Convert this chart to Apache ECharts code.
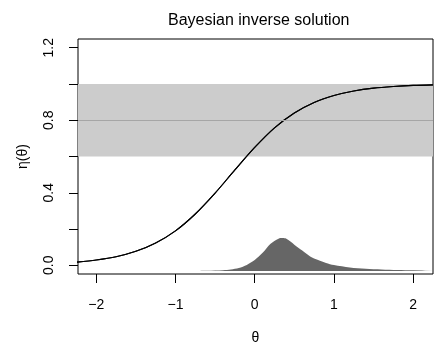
<!DOCTYPE html>
<html>
<head>
<meta charset="utf-8">
<script src="https://cdn.jsdelivr.net/npm/echarts@6/dist/echarts.min.js"></script>
<style>html,body{margin:0;padding:0;background:#fff}#c{width:443px;height:354px}</style>
</head>
<body>
<div id="c"></div>
<script>
// Response curve eta(theta)
const curveTheta = [-2.25,-2,-1.75,-1.5,-1.25,-1,-0.75,-0.5,-0.25,0,0.25,0.5,0.75,1,1.25,1.5,1.75,2,2.25];
const curveEta   = [0.017,0.029,0.047,0.077,0.123,0.190,0.283,0.398,0.526,0.650,0.758,0.840,0.898,0.936,0.961,0.977,0.986,0.992,0.995];
// Posterior density of theta (height above its baseline)
const densityTheta  = [-0.72,-0.6,-0.4,-0.3,-0.2,-0.1,0,0.1,0.2,0.3,0.35,0.4,0.5,0.6,0.7,0.8,0.9,1.0,1.2,1.4,1.6,1.8,2.0,2.25];
const densityHeight = [0,0.001,0.004,0.008,0.016,0.033,0.060,0.100,0.150,0.178,0.181,0.177,0.145,0.112,0.080,0.060,0.044,0.032,0.019,0.012,0.008,0.005,0.003,0.002];
const densityBase = -0.031;
// Observation band and target
const bandLow = 0.6, bandHigh = 1.0, target = 0.8;
// Ticks
const xTicks = [-2,-1,0,1,2];
const yTicks = [0,0.2,0.4,0.6,0.8,1.0,1.2];
const yLabels = [0,0.4,0.8,1.2];

const FONT = 'Liberation Sans';
const chart = echarts.init(document.getElementById('c'), null, {renderer:'canvas'});
chart.setOption({
  animation: false,
  backgroundColor: '#fff',
  title: {
    text: 'Bayesian inverse solution',
    left: 163, top: 8,
    textStyle: {fontFamily: FONT, fontSize: 16, fontWeight: 'normal', color: '#000'}
  },
  grid: {left: 78, right: 10, top: 39, bottom: 80, show: true, borderColor: '#000', borderWidth: 1, backgroundColor: 'transparent'},
  xAxis: {
    type: 'value', min: -2.23, max: 2.25, position: 'bottom',
    name: 'θ', nameLocation: 'middle', nameGap: 57,
    nameTextStyle: {fontFamily: FONT, fontSize: 14, color: '#000'},
    axisLine: {show: false, onZero: false},
    splitLine: {show: false},
    axisTick: {show: true, inside: false, length: 9, customValues: xTicks, lineStyle: {color: '#000'}},
    axisLabel: {customValues: xTicks, margin: 24, fontFamily: FONT, fontSize: 14, color: '#000',
      formatter: v => String(v).replace('-', '\u2212')}
  },
  yAxis: {
    type: 'value', min: -0.048, max: 1.248, position: 'left',
    name: 'η(θ)', nameLocation: 'middle', nameGap: 48, nameRotate: 90,
    nameTextStyle: {fontFamily: FONT, fontSize: 14, color: '#000'},
    axisLine: {show: false, onZero: false},
    splitLine: {show: false},
    axisTick: {show: true, inside: false, length: 9, customValues: yTicks, lineStyle: {color: '#000'}},
    axisLabel: {customValues: yLabels, rotate: 90, margin: 22, fontFamily: FONT, fontSize: 14, color: '#000',
      formatter: v => v.toFixed(1)}
  },
  series: [
    {
      type: 'line', z: 1,
      data: curveTheta.map((t, i) => [t, curveEta[i]]),
      showSymbol: false, smooth: 0.3,
      lineStyle: {color: '#000', width: 1.1},
      markArea: {silent: true, itemStyle: {color: '#cccccc', opacity: 1},
        data: [[{yAxis: bandLow}, {yAxis: bandHigh}]]},
      markLine: {silent: true, symbol: 'none', label: {show: false},
        lineStyle: {color: '#a6a6a6', type: 'solid', width: 1},
        data: [{yAxis: target}]}
    },
    {
      type: 'line', z: 3,
      data: curveTheta.map((t, i) => [t, curveEta[i]]),
      showSymbol: false, smooth: 0.3,
      lineStyle: {color: '#000', width: 1.1}
    },
    {
      type: 'line', z: 2,
      data: densityTheta.map((t, i) => [t, densityHeight[i] + densityBase]),
      showSymbol: false, smooth: 0.3,
      lineStyle: {width: 0},
      areaStyle: {color: '#666666', opacity: 1, origin: densityBase}
    }
  ]
});
</script>
</body>
</html>
